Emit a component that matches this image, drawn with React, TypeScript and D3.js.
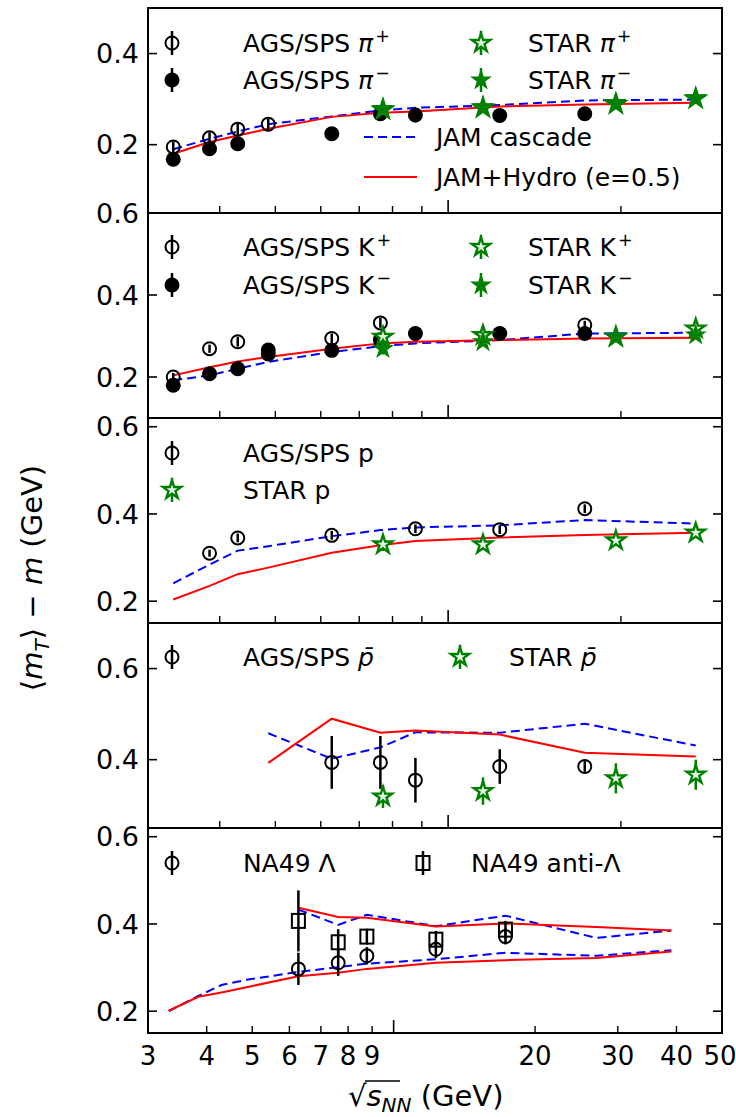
import React from 'react'
import * as d3 from 'd3'

// sqrt(s_NN) energies in GeV
const agsE = [3.32, 3.84, 4.3, 4.86]
const piMinusE = [3.32, 3.84, 4.3, 6.27, 7.62, 8.77, 12.3, 17.3]
const kPlusE = [3.32, 3.84, 4.3, 6.27, 7.62, 17.3]
const kMinusE = [3.32, 3.84, 4.3, 4.86, 4.86, 6.27, 7.62, 8.77, 12.3, 17.3]
const protonE = [3.84, 4.3, 6.27, 8.77, 12.3, 17.3]
const spsE = [6.27, 7.62, 8.77, 12.3, 17.3]
const starE = [7.7, 11.5, 19.6, 27]
const modelE = [3.32, 3.84, 4.3, 4.86, 6.27, 7.62, 8.77, 12.3, 17.3, 27]
const pbarModelE = [4.86, 6.27, 7.62, 8.77, 12.3, 17.3, 27]
const lamModelE = [3.32, 3.84, 4.3, 4.86, 6.27, 7.62, 8.77, 12.3, 17.3, 27, 39]
const antiLamModelE = [6.27, 7.62, 8.77, 12.3, 17.3, 27, 39]

// pions
const piPlus = [0.195, 0.215, 0.234, 0.245]
const piPlusErr = [0.012, 0.012, 0.012, 0.012]
const piMinus = [0.168, 0.191, 0.202, 0.224, 0.268, 0.265, 0.264, 0.268]
const piMinusErr = [0.013, 0.013, 0.013, 0.014, 0.016, 0.016, 0.015, 0.015]
const starPiPlus = [0.277, 0.281, 0.289, 0.301]
const starPiMinus = [0.279, 0.283, 0.292, 0.303]
const starPiErr = [0.012, 0.01, 0.01, 0.01]
const jamPi = [0.19, 0.213, 0.229, 0.245, 0.262, 0.275, 0.281, 0.287, 0.297, 0.299]
const hydroPi = [0.18, 0.206, 0.22, 0.235, 0.261, 0.27, 0.273, 0.284, 0.288, 0.292]

// kaons
const kPlus = [0.2, 0.269, 0.286, 0.294, 0.332, 0.327]
const kPlusErr = [0.01, 0.01, 0.012, 0.012, 0.012, 0.01]
const kMinus = [0.18, 0.208, 0.22, 0.266, 0.256, 0.265, 0.291, 0.306, 0.306, 0.306]
const kMinusErr = [0.01, 0.01, 0.01, 0.012, 0.012, 0.01, 0.012, 0.01, 0.01, 0.01]
const starKPlus = [0.298, 0.302, 0.298, 0.318]
const starKMinus = [0.269, 0.286, 0.296, 0.302]
const starKErr = [0.014, 0.01, 0.01, 0.01]
const jamK = [0.192, 0.204, 0.22, 0.237, 0.261, 0.275, 0.282, 0.29, 0.306, 0.308]
const hydroK = [0.204, 0.224, 0.238, 0.249, 0.269, 0.282, 0.286, 0.29, 0.294, 0.296]

// protons
const proton = [0.31, 0.345, 0.351, 0.366, 0.364, 0.412]
const protonErr = [0.008, 0.01, 0.01, 0.01, 0.01, 0.01]
const starP = [0.33, 0.33, 0.339, 0.357]
const starPErr = [0.015, 0.012, 0.012, 0.012]
const jamP = [0.241, 0.284, 0.316, 0.326, 0.349, 0.363, 0.369, 0.374, 0.386, 0.378]
const hydroP = [0.204, 0.235, 0.262, 0.277, 0.311, 0.328, 0.338, 0.346, 0.352, 0.357]

// antiprotons
const pbar = [0.394, 0.394, 0.355, 0.385, 0.385]
const pbarErr = [0.058, 0.058, 0.049, 0.038, 0.012]
const starPbar = [0.319, 0.331, 0.359, 0.367]
const starPbarErr = [0.025, 0.03, 0.033, 0.033]
const jamPbar = [0.458, 0.402, 0.427, 0.46, 0.459, 0.479, 0.431]
const hydroPbar = [0.393, 0.49, 0.459, 0.464, 0.455, 0.415, 0.407]

// lambdas
const lambda = [0.297, 0.311, 0.327, 0.342, 0.371]
const lambdaErr = [0.037, 0.03, 0.02, 0.02, 0.018]
const antiLambda = [0.407, 0.358, 0.371, 0.364, 0.387]
const antiLambdaErr = [0.07, 0.03, 0.018, 0.02, 0.02]
const jamLam = [0.2, 0.235, 0.26, 0.272, 0.29, 0.301, 0.309, 0.319, 0.334, 0.327, 0.34]
const hydroLam = [0.201, 0.233, 0.243, 0.255, 0.28, 0.288, 0.297, 0.311, 0.317, 0.322, 0.337]
const jamAntiLam = [0.433, 0.398, 0.421, 0.395, 0.419, 0.368, 0.385]
const hydroAntiLam = [0.437, 0.416, 0.414, 0.394, 0.401, 0.393, 0.385]

const xTickMinor = [4, 5, 6, 7, 8, 9, 20, 30, 40]
const xTickLabels = [3, 4, 5, 6, 7, 8, 9, 20, 30, 40, 50]

const FONT = 'DejaVu Sans'
const X0 = 148
const X1 = 722
const TOP = 8
const PH = 205

const BLUE = 'blue'
const RED = 'red'
const GREEN = 'green'

const mk = (e, v, err, shape) => ({ e, v, err, shape })
const ln = (e, v, color) => ({ e, v, color })

const panels = [
  {
    xDomain: [3, 30], yDomain: [0.05, 0.5], yTicks: [0.2, 0.4],
    lines: [ln(modelE, jamPi, BLUE), ln(modelE, hydroPi, RED)],
    points: [
      mk(agsE, piPlus, piPlusErr, 'circleOpen'),
      mk(piMinusE, piMinus, piMinusErr, 'circleFilled'),
      mk(starE, starPiPlus, starPiErr, 'starOpen'),
      mk(starE, starPiMinus, starPiErr, 'starFilled'),
    ],
    legend: [
      { shape: 'circleOpen', x: 172, y: 43, parts: [{ t: 'AGS/SPS ' }, { t: 'π', it: true }, { t: '+', sup: true }] },
      { shape: 'circleFilled', x: 172, y: 80, parts: [{ t: 'AGS/SPS ' }, { t: 'π', it: true }, { t: '−', sup: true }] },
      { shape: 'starOpen', x: 481, y: 43, tx: 528, parts: [{ t: 'STAR ' }, { t: 'π', it: true }, { t: '+', sup: true }] },
      { shape: 'starFilled', x: 481, y: 80, tx: 528, parts: [{ t: 'STAR ' }, { t: 'π', it: true }, { t: '−', sup: true }] },
      { shape: 'lineBlue', x: 390, y: 137, tx: 436, parts: [{ t: 'JAM cascade' }] },
      { shape: 'lineRed', x: 390, y: 177, tx: 436, parts: [{ t: 'JAM+Hydro (e=0.5)' }] },
    ],
  },
  {
    xDomain: [3, 30], yDomain: [0.1, 0.6], yTicks: [0.2, 0.4, 0.6],
    lines: [ln(modelE, jamK, BLUE), ln(modelE, hydroK, RED)],
    points: [
      mk(kPlusE, kPlus, kPlusErr, 'circleOpen'),
      mk(kMinusE, kMinus, kMinusErr, 'circleFilled'),
      mk(starE, starKPlus, starKErr, 'starOpen'),
      mk(starE, starKMinus, starKErr, 'starFilled'),
    ],
    legend: [
      { shape: 'circleOpen', x: 172, y: 247, parts: [{ t: 'AGS/SPS K' }, { t: '+', sup: true }] },
      { shape: 'circleFilled', x: 172, y: 285, parts: [{ t: 'AGS/SPS K' }, { t: '−', sup: true }] },
      { shape: 'starOpen', x: 481, y: 247, tx: 528, parts: [{ t: 'STAR K' }, { t: '+', sup: true }] },
      { shape: 'starFilled', x: 481, y: 285, tx: 528, parts: [{ t: 'STAR K' }, { t: '−', sup: true }] },
    ],
  },
  {
    xDomain: [3, 30], yDomain: [0.15, 0.62], yTicks: [0.2, 0.4, 0.6],
    lines: [ln(modelE, jamP, BLUE), ln(modelE, hydroP, RED)],
    points: [
      mk(protonE, proton, protonErr, 'circleOpen'),
      mk(starE, starP, starPErr, 'starOpen'),
    ],
    legend: [
      { shape: 'circleOpen', x: 172, y: 453, parts: [{ t: 'AGS/SPS p' }] },
      { shape: 'starOpen', x: 172, y: 490, parts: [{ t: 'STAR p' }] },
    ],
  },
  {
    xDomain: [3, 30], yDomain: [0.25, 0.7], yTicks: [0.4, 0.6],
    lines: [ln(pbarModelE, jamPbar, BLUE), ln(pbarModelE, hydroPbar, RED)],
    points: [
      mk(spsE, pbar, pbarErr, 'circleOpen'),
      mk(starE, starPbar, starPbarErr, 'starOpen'),
    ],
    legend: [
      { shape: 'circleOpen', x: 172, y: 657, parts: [{ t: 'AGS/SPS ' }, { t: 'p\u0304', it: true }] },
      { shape: 'starOpen', x: 460, y: 657, tx: 509, parts: [{ t: 'STAR ' }, { t: 'p\u0304', it: true }] },
    ],
  },
  {
    xDomain: [3, 50], yDomain: [0.15, 0.62], yTicks: [0.2, 0.4, 0.6],
    lines: [
      ln(lamModelE, jamLam, BLUE), ln(lamModelE, hydroLam, RED),
      ln(antiLamModelE, jamAntiLam, BLUE), ln(antiLamModelE, hydroAntiLam, RED),
    ],
    points: [
      mk(spsE, lambda, lambdaErr, 'circleOpen'),
      mk(spsE, antiLambda, antiLambdaErr, 'square'),
    ],
    legend: [
      { shape: 'circleOpen', x: 172, y: 863, parts: [{ t: 'NA49 Λ' }] },
      { shape: 'square', x: 423, y: 863, tx: 471, parts: [{ t: 'NA49 anti-Λ' }] },
    ],
  },
]

const starPath = d3.symbol(d3.symbolStar, 105)()

function Marker({ shape, cx, cy }) {
  if (shape === 'circleOpen')
    return <circle cx={cx} cy={cy} r={6.5} fill="none" stroke="black" strokeWidth={2} />
  if (shape === 'circleFilled') return <circle cx={cx} cy={cy} r={7.5} fill="black" />
  if (shape === 'square')
    return <rect x={cx - 6.5} y={cy - 7} width={13} height={14} fill="none" stroke="black" strokeWidth={2} />
  if (shape === 'starOpen')
    return <path d={starPath} transform={`translate(${cx},${cy})`} fill="#e6f3e6" stroke={GREEN} strokeWidth={2.4} />
  return <path d={starPath} transform={`translate(${cx},${cy})`} fill={GREEN} stroke={GREEN} strokeWidth={1.2} />
}

function MathText({ x, y, parts, size, anchor = 'start', transform }) {
  let shift = 0
  return (
    <text x={x} y={y} fontSize={size} fontFamily={FONT} textAnchor={anchor} transform={transform}>
      {parts.map((p, k) => {
        const target = p.sup ? -0.4 * size : p.sub ? 0.25 * size : 0
        const dy = target - shift
        shift = target
        return (
          <tspan key={k} dy={dy} fontStyle={p.it ? 'italic' : 'normal'}
            fontSize={p.sup || p.sub ? size * 0.7 : size} dx={p.sup ? 2 : 0}>
            {p.t}
          </tspan>
        )
      })}
    </text>
  )
}

function Panel({ p, i }) {
  const y0 = TOP + i * PH
  const x = d3.scaleLog().domain(p.xDomain).range([X0, X1])
  const y = d3.scaleLinear().domain(p.yDomain).range([y0 + PH, y0])
  const line = d3.line().x((d) => x(d[0])).y((d) => y(d[1]))
  const minor = xTickMinor.filter((v) => v > p.xDomain[0] && v < p.xDomain[1])

  return (
    <g>
      {p.lines.map((l, k) => (
        <path key={k} d={line(l.e.map((e, j) => [e, l.v[j]]))} fill="none" stroke={l.color}
          strokeWidth={2} strokeDasharray={l.color === BLUE ? '9,5' : null} />
      ))}
      {p.points.map((s, k) => {
        const col = s.shape.startsWith('star') ? GREEN : 'black'
        return (
          <g key={k}>
            {s.e.map((e, j) => (
              <g key={j}>
                <line x1={x(e)} x2={x(e)} y1={y(s.v[j] - s.err[j])} y2={y(s.v[j] + s.err[j])}
                  stroke={col} strokeWidth={2.5} />
                <Marker shape={s.shape} cx={x(e)} cy={y(s.v[j])} />
              </g>
            ))}
          </g>
        )
      })}
      {p.legend.map((L, k) => (
        <g key={k}>
          {L.shape.startsWith('line') ? (
            <line x1={L.x - 26} x2={L.x + 27} y1={L.y} y2={L.y} stroke={L.shape === 'lineBlue' ? BLUE : RED}
              strokeWidth={2} strokeDasharray={L.shape === 'lineBlue' ? '9,5' : null} />
          ) : (
            <g>
              <line x1={L.x} x2={L.x} y1={L.y - 12} y2={L.y + 12}
                stroke={L.shape.startsWith('star') ? GREEN : 'black'} strokeWidth={2.5} />
              <Marker shape={L.shape} cx={L.x} cy={L.y} />
            </g>
          )}
          <MathText x={L.tx || 243} y={L.y + 9} parts={L.parts} size={25} />
        </g>
      ))}
      <rect x={X0} y={y0} width={X1 - X0} height={PH} fill="none" stroke="black" strokeWidth={2} />
      {p.yTicks.map((t) => (
        <g key={t}>
          <line x1={X0} x2={X0 + 9} y1={y(t)} y2={y(t)} stroke="black" strokeWidth={1.6} />
          <line x1={X1 - 9} x2={X1} y1={y(t)} y2={y(t)} stroke="black" strokeWidth={1.6} />
          <text x={X0 - 9} y={y(t)} dy="0.36em" textAnchor="end" fontSize={27} fontFamily={FONT}>
            {t.toFixed(1)}
          </text>
        </g>
      ))}
      {minor.map((t) => (
        <line key={t} x1={x(t)} x2={x(t)} y1={y0 + PH} y2={y0 + PH - 7} stroke="black" strokeWidth={1.4} />
      ))}
      <line x1={x(10)} x2={x(10)} y1={y0 + PH} y2={y0 + PH - 13} stroke="black" strokeWidth={1.6} />
      {i === panels.length - 1 &&
        xTickLabels.map((t) => (
          <text key={t} x={t === 50 ? x(t) - 2 : x(t)} y={y0 + PH + 32} textAnchor="middle" fontSize={26} fontFamily={FONT}>
            {t}
          </text>
        ))}
    </g>
  )
}

export default function App() {
  return (
    <svg width={736} height={1117} style={{ position: 'absolute', left: 0, top: 0, background: '#fff' }}>
      <rect width={736} height={1117} fill="white" />
      {panels.map((p, i) => (
        <Panel key={i} p={p} i={i} />
      ))}
      <MathText x={0} y={0} size={29} anchor="middle" transform="translate(42,578) rotate(-90)"
        parts={[{ t: '⟨' }, { t: 'm', it: true }, { t: 'T', it: true, sub: true }, { t: '⟩ − ' }, { t: 'm', it: true }, { t: ' (GeV)' }]} />
      <text x={348} y={1106} fontSize={29} fontFamily={FONT}>
        <tspan>√</tspan>
        <tspan fontStyle="italic">s</tspan>
        <tspan fontStyle="italic" fontSize={20} dy={6}>NN</tspan>
        <tspan dy={-6}> (GeV)</tspan>
      </text>
      <line x1={365} x2={400} y1={1081} y2={1081} stroke="black" strokeWidth={1.5} />
    </svg>
  )
}
